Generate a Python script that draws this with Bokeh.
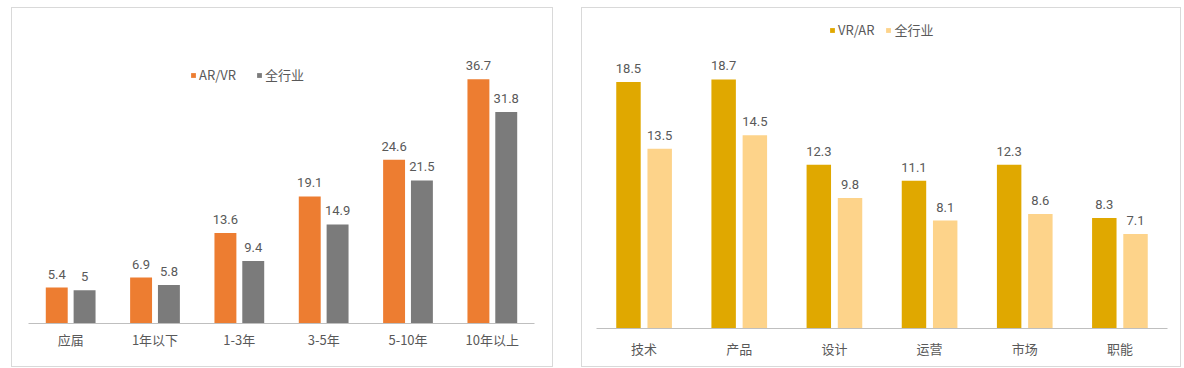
from bokeh.plotting import figure
from bokeh.models import ColumnDataSource, Legend, LegendItem, Spacer
from bokeh.layouts import row, column
from bokeh.transform import dodge
from bokeh.core.properties import value
from bokeh.embed import file_html
from bokeh.resources import INLINE

# Left chart: years of experience
exp_cats = ["应届", "1年以下", "1-3年", "3-5年", "5-10年", "10年以上"]
arvr_vals = [5.4, 6.9, 13.6, 19.1, 24.6, 36.7]
all_exp_vals = [5, 5.8, 9.4, 14.9, 21.5, 31.8]

# Right chart: job functions
job_cats = ["技术", "产品", "设计", "运营", "市场", "职能"]
vrar_vals = [18.5, 18.7, 12.3, 11.1, 12.3, 8.3]
all_job_vals = [13.5, 14.5, 9.8, 8.1, 8.6, 7.1]

NUM_FONT = "Roboto"
CJK_FONT = "Noto Sans CJK SC"
TXT = "#595959"
BORDER = {"border": "1px solid #d9d9d9", "box-sizing": "border-box"}


def fmt(v):
    return "%g" % v


def make_panel(cats, a, b, names, colors, width, height, ymax, mb, legend_loc,
               standoff, bw, off, spacing):
    src = ColumnDataSource(dict(cat=cats, a=a, b=b,
                                la=[fmt(v) for v in a], lb=[fmt(v) for v in b]))
    p = figure(x_range=cats, y_range=(0, ymax), width=width, height=height,
               title=None, output_backend="svg", toolbar_location=None,
               min_border_left=mb[0], min_border_right=mb[1],
               min_border_top=mb[2], min_border_bottom=mb[3],
               styles=BORDER)
    p.outline_line_color = None
    p.background_fill_color = "white"
    p.border_fill_color = "white"
    p.grid.visible = False
    p.yaxis.visible = False
    r1 = p.vbar(x=dodge("cat", -off, range=p.x_range), top="a", width=bw,
                source=src, fill_color=colors[0], line_color=None)
    r2 = p.vbar(x=dodge("cat", off, range=p.x_range), top="b", width=bw,
                source=src, fill_color=colors[1], line_color=None)
    for ycol, tcol, o in (("a", "la", -off), ("b", "lb", off)):
        p.text(x=dodge("cat", o, range=p.x_range), y=ycol, text=tcol,
               source=src, text_align="center", text_baseline="bottom",
               y_offset=-9, text_font=value(NUM_FONT), text_font_size="13px",
               text_color=TXT)
    ax = p.xaxis[0]
    ax.axis_line_color = "#BFBFBF"
    ax.axis_line_width = 1
    ax.major_tick_line_color = None
    ax.minor_tick_line_color = None
    ax.major_label_text_font = CJK_FONT
    ax.major_label_text_font_size = "13px"
    ax.major_label_text_color = TXT
    ax.major_label_standoff = standoff
    leg = Legend(items=[LegendItem(label=names[0], renderers=[r1]),
                        LegendItem(label=names[1], renderers=[r2])],
                 orientation="horizontal", location=legend_loc,
                 border_line_color=None, background_fill_alpha=0,
                 glyph_width=6, glyph_height=6, label_standoff=3,
                 spacing=spacing, padding=0, margin=0,
                 label_text_font=CJK_FONT, label_text_font_size="13px",
                 label_text_color=TXT)
    p.add_layout(leg, "center")
    return p


p1 = make_panel(exp_cats, arvr_vals, all_exp_vals, ["AR/VR", "全行业"],
                ["#ED7D31", "#7B7B7B"], 542, 360, 45.4, (16, 20, 13, 45),
                (162, 239), 0, 0.26, 0.165, 20)
p2 = make_panel(job_cats, vrar_vals, all_job_vals, ["VR/AR", "全行业"],
                ["#E0A800", "#FDD38A"], 600, 360, 23.5, (14, 15, 7, 40),
                (233, 289), 4, 0.257, 0.164, 11)

layout = row(Spacer(width=11), column(Spacer(height=7), p1),
             Spacer(width=28), column(Spacer(height=7), p2))
open("out.html", "w").write(file_html(layout, INLINE))
